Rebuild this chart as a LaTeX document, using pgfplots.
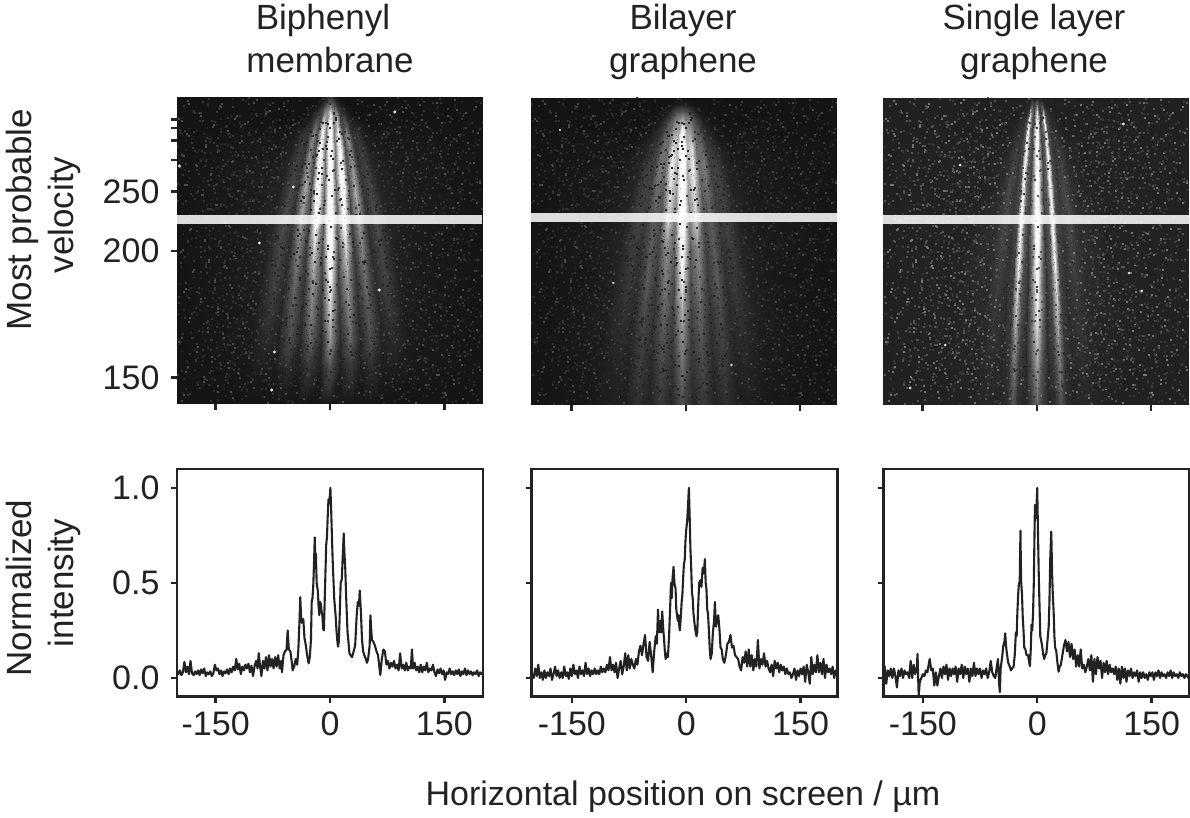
\documentclass[border=0pt]{standalone}
\usepackage{fontspec}
\setmainfont{Liberation Sans}
\usepackage{pgfplots}
\pgfplotsset{compat=1.18}
\newcommand{\bigf}{\fontsize{34}{42}\selectfont}
\newcommand{\labf}{\fontsize{35}{42}\selectfont}
\definecolor{ink}{HTML}{222222}

% image brightness: one row per detector line, values from the centre fringe outwards
\newcommand{\startmesh}{\gdef\meshdata{}}
\newcommand{\gridrow}[5]{%
  \foreach \u [count=\i from 0] in #1 {%
    \pgfmathsetmacro\xx{max(min(\u*sqrt((#4-89)/131)+#3,198),-200)}%
    \pgfmathsetmacro\cc{{#5}[int(abs(\i-#2))]}%
    \xdef\meshdata{\meshdata (\xx,#4) [\cc]}%
  }%
}

\newcommand{\uA}{-300,-100,-75,-60,-49,-38,-28,-18.7,-9,0,9,18.7,28,38,49,60,75,100,300}
\startmesh
\gridrow{\uA}{9}{0}{97}{.15,.12,.08,.03,.01,0,0,0,0,0}
\gridrow{\uA}{9}{0}{104}{.35,.3,.2,.1,.04,.02,0,0,0,0}
\gridrow{\uA}{9}{0}{112}{.65,.45,.4,.2,.12,.06,.02,0,0,0}
\gridrow{\uA}{9}{0}{120}{.9,.45,.6,.22,.25,.1,.04,.02,0,0}
\gridrow{\uA}{9}{0}{135}{1,.4,.8,.25,.45,.14,.15,.05,.02,0}
\gridrow{\uA}{9}{0}{150}{1,.4,.9,.25,.45,.15,.18,.06,.03,0}
\gridrow{\uA}{9}{0}{170}{1,.35,.95,.25,.5,.15,.2,.07,.04,0}
\gridrow{\uA}{9}{0}{190}{1,.35,.95,.25,.55,.15,.22,.07,.04,0}
\gridrow{\uA}{9}{0}{220}{1,.3,.85,.2,.5,.13,.25,.07,.04,0}
\gridrow{\uA}{9}{0}{250}{.95,.25,.65,.17,.42,.11,.22,.06,.03,0}
\gridrow{\uA}{9}{0}{280}{.8,.2,.5,.14,.35,.1,.2,.05,.03,0}
\gridrow{\uA}{9}{0}{310}{.65,.16,.42,.12,.3,.08,.16,.04,.02,0}
\gridrow{\uA}{9}{0}{340}{.48,.1,.33,.08,.25,.06,.1,.03,.02,0}
\gridrow{\uA}{9}{0}{370}{.25,.05,.15,.04,.1,.03,.04,.015,.01,0}
\gridrow{\uA}{9}{0}{403}{.03,.01,.01,.01,.01,0,0,0,0,0}
\let\meshA\meshdata

\newcommand{\uB}{-300,-100,-75,-58,-48,-38,-28,-18.5,-9,0,9,18.5,28,38,48,58,75,100,300}
\startmesh
\gridrow{\uB}{9}{-5}{99}{0,0,0,0,0,0,0,0,0,0}
\gridrow{\uB}{9}{-5}{104}{.05,.04,.03,.02,.01,0,0,0,0,0}
\gridrow{\uB}{9}{-5}{112}{.3,.28,.25,.18,.1,.05,.02,0,0,0}
\gridrow{\uB}{9}{-5}{120}{.55,.45,.4,.3,.2,.1,.04,.01,0,0}
\gridrow{\uB}{9}{-5}{135}{.9,.55,.55,.35,.3,.15,.1,.03,.01,0}
\gridrow{\uB}{9}{-5}{150}{1,.6,.7,.35,.35,.2,.15,.06,.02,0}
\gridrow{\uB}{9}{-5}{170}{1,.55,.75,.35,.4,.2,.2,.07,.03,0}
\gridrow{\uB}{9}{-5}{190}{1,.5,.7,.3,.35,.2,.2,.07,.03,0}
\gridrow{\uB}{9}{-5}{220}{1,.4,.65,.25,.3,.17,.2,.07,.03,0}
\gridrow{\uB}{9}{-5}{250}{.85,.3,.45,.2,.3,.13,.18,.06,.03,0}
\gridrow{\uB}{9}{-5}{280}{.75,.25,.4,.17,.3,.12,.16,.05,.02,0}
\gridrow{\uB}{9}{-5}{310}{.55,.2,.33,.14,.25,.1,.14,.05,.02,0}
\gridrow{\uB}{9}{-5}{340}{.45,.17,.28,.12,.2,.08,.1,.04,.02,0}
\gridrow{\uB}{9}{-5}{370}{.35,.13,.22,.09,.17,.06,.07,.03,.01,0}
\gridrow{\uB}{9}{-5}{404}{.25,.08,.16,.06,.12,.04,.05,.02,.01,0}
\let\meshB\meshdata

\newcommand{\uC}{-300,-85,-63,-52,-42,-32,-25.5,-20.5,-15.5,-10,-5,0,5,10,15.5,20.5,25.5,32,42,52,63,85,300}
\startmesh
\gridrow{\uC}{11}{0}{99}{.1,.05,.02,.02,.02,.01,0,0,0,0,0,0}
\gridrow{\uC}{11}{0}{104}{.35,.2,.1,.15,.15,.05,.01,0,0,0,0,0}
\gridrow{\uC}{11}{0}{112}{.7,.35,.12,.3,.5,.15,.05,.02,0,0,0,0}
\gridrow{\uC}{11}{0}{120}{.85,.45,.1,.35,.75,.2,.08,.04,.01,0,0,0}
\gridrow{\uC}{11}{0}{135}{1,.5,.15,.3,.85,.25,.1,.08,.03,.01,0,0}
\gridrow{\uC}{11}{0}{150}{1,.5,.15,.3,.85,.2,.1,.12,.05,.02,.01,0}
\gridrow{\uC}{11}{0}{170}{1,.5,.15,.3,.85,.2,.1,.16,.06,.03,.01,0}
\gridrow{\uC}{11}{0}{190}{1,.5,.15,.3,.85,.2,.1,.18,.07,.03,.01,0}
\gridrow{\uC}{11}{0}{220}{1,.5,.12,.25,.85,.18,.1,.18,.07,.05,.01,0}
\gridrow{\uC}{11}{0}{250}{.95,.45,.1,.25,.8,.16,.08,.16,.06,.05,.01,0}
\gridrow{\uC}{11}{0}{280}{.85,.4,.08,.22,.7,.15,.07,.13,.05,.04,.01,0}
\gridrow{\uC}{11}{0}{310}{.75,.35,.06,.2,.6,.13,.06,.1,.04,.03,.01,0}
\gridrow{\uC}{11}{0}{340}{.6,.28,.05,.15,.45,.1,.05,.08,.03,.02,.01,0}
\gridrow{\uC}{11}{0}{370}{.45,.2,.04,.1,.35,.07,.03,.05,.02,.01,0,0}
\gridrow{\uC}{11}{0}{404}{.3,.12,.02,.06,.22,.05,.02,.03,.01,0,0,0}
\let\meshC\meshdata

% background grain
\newcommand{\speck}{
(-187,101)(-142,104)(-96,100)(-61,106)(74,102)(118,105)(163,100)(191,107)
(-171,113)(-122,116)(-79,111)(52,115)(96,112)(141,118)(178,113)(-198,119)
(-153,125)(-108,122)(-66,128)(66,124)(127,127)(169,121)(-41,123)(38,129)
(-188,134)(-134,131)(-87,137)(-52,133)(47,136)(88,132)(152,138)(194,133)
(-163,145)(-116,141)(-71,147)(-36,143)(59,146)(108,141)(136,148)(181,143)
(-194,155)(-146,151)(-98,157)(-58,153)(43,156)(79,152)(122,158)(167,153)
(-176,165)(-127,161)(-83,167)(-47,163)(64,166)(99,161)(148,168)(188,163)
(-157,174)(-105,171)(-68,177)(-31,173)(51,176)(114,172)(139,178)(174,173)
(-191,185)(-138,181)(-89,187)(-55,183)(71,186)(93,181)(157,188)(197,183)
(-168,195)(-119,191)(-76,197)(-43,193)(56,196)(104,191)(131,198)(183,193)
(-149,205)(-101,201)(-63,207)(-35,203)(67,206)(121,201)(161,208)(192,203)
(-184,230)(-131,227)(-92,233)(-50,229)(61,232)(109,228)(146,234)(176,229)
(-165,241)(-112,238)(-73,244)(-39,240)(76,243)(97,239)(133,245)(186,240)
(-196,252)(-143,248)(-86,254)(-57,250)(49,253)(116,249)(154,255)(171,250)
(-159,262)(-124,258)(-69,264)(-45,260)(63,263)(88,259)(128,265)(194,260)
(-180,272)(-136,268)(-94,274)(-53,270)(72,273)(106,269)(144,275)(165,270)
(-151,282)(-109,278)(-78,284)(-60,280)(58,283)(93,279)(124,285)(188,280)
(-192,292)(-129,288)(-84,294)(-66,290)(79,293)(113,289)(151,295)(174,290)
(-170,302)(-117,298)(-97,304)(-54,300)(68,303)(101,299)(138,305)(196,300)
(-147,312)(-104,308)(-75,314)(-48,310)(84,313)(119,309)(159,315)(181,310)
(-186,322)(-134,318)(-88,324)(-62,320)(64,323)(96,319)(129,325)(168,320)
(-161,332)(-112,328)(-71,334)(-42,330)(77,333)(108,329)(147,335)(192,330)
(-198,342)(-140,338)(-93,344)(-57,340)(55,343)(88,339)(122,345)(176,340)
(-175,352)(-125,348)(-80,354)(-38,350)(69,353)(114,349)(156,355)(184,350)
(-155,362)(-107,358)(-66,364)(-29,360)(45,363)(98,359)(135,365)(170,360)
(-189,372)(-133,368)(-85,374)(-51,370)(60,373)(104,369)(143,375)(197,370)
(-166,382)(-118,378)(-74,384)(-20,380)(28,383)(82,379)(126,385)(162,380)
(-147,392)(-100,388)(-58,394)(-11,390)(38,393)(91,389)(152,395)(186,390)
(-194,401)(-128,398)(-82,403)(-35,399)(17,402)(68,398)(113,403)(174,399)
}
\newcommand{\spk}[5]{%
  \addplot[speck,#5,x filter/.expression={#1*x+#2},y filter/.expression={#3*y+#4}] coordinates {\speck};
}
% light grain, then dark grain over the fringes
\newcommand{\grain}[3]{%
  \spk{1}{0}{1}{0}{#1}
  \spk{-1}{7}{-1}{501}{#2}
  \spk{.93}{-11}{.97}{5.7}{#1}
  \spk{-.87}{23}{.91}{31}{#3}
  \spk{1.13}{17}{-.89}{461}{#2}
  \spk{-1.21}{-9}{-1.07}{540}{#3}
  \spk{.71}{37}{1.03}{-9}{#3}
  \spk{-.63}{-41}{.83}{49}{#2}
  \spk{1.07}{-23}{-.94}{480}{#3}
  \spk{-1.17}{31}{1.02}{-3}{#2}
  \spk{.83}{29}{-1.11}{512}{#3}
  \spk{-.77}{-27}{-.96}{487}{#2}
  \spk{1.27}{-5}{.87}{38}{#3}
  \spk{-1.33}{13}{.93}{21}{#3}
  \spk{.38}{3}{1}{6}{darkgrain}
  \spk{-.31}{-4}{.96}{19}{darkgrain}
  \spk{.27}{6}{-.98}{492}{darkgrain}
  \spk{-.44}{-2}{-1.02}{505}{darkgrain}
  \spk{.33}{-7}{.94}{28}{darkgrain}
  \spk{-.41}{8}{-.91}{470}{darkgrain}
}

\pgfplotsset{
  ticklabel style={font=\bigf,text=ink},
  yticklabel style={xshift=-8pt},
  every tick/.style={ink,line width=2.4pt},
  speck/.style={only marks,mark=square*,mark size=0.5pt,draw=none},
  darkgrain/.style={black,mark options={fill opacity=.3,draw opacity=0}},
  fringes/.style={surf,shader=interp,point meta=explicit},
  img/.style={
    scale only axis,width=306pt,height=306.5pt,
    y dir=reverse,ymin=97,ymax=403.5,clip mode=individual,clip marker paths=true,
    axis line style={draw=none},
    tick align=outside,major tick length=6pt,
    xtick={-150,0,150},xticklabels={},xtick pos=bottom,
    ytick=\empty,point meta min=0,point meta max=1,
  },
  prof/.style={
    scale only axis,width=306pt,height=227.5pt,
    ymin=-0.0984,ymax=1.0984,
    axis line style={ink,line width=2.6pt},
    tick align=outside,major tick length=6pt,
    xtick={-150,0,150},xtick pos=bottom,ytick pos=left,
    xticklabels={-150,0,150},
    ytick={0,0.5,1},yticklabels={},
    xticklabel style={yshift=-6pt},
  },
  trace/.style={ink,line width=2.1pt,line join=round,no markers},
}

\begin{document}
\begin{tikzpicture}
\path[use as bounding box] (0,0) rectangle (1190pt,817pt);

% ---- top row, velocity resolved images
\begin{axis}[img,at={(177pt,413.5pt)},anchor=south west,
  xmin=-200.7,xmax=200.7,
  colormap={ga}{gray(0cm)=(0.08); gray(0.25cm)=(0.3); gray(0.5cm)=(0.6); gray(0.75cm)=(0.95); gray(1cm)=(1)},
  axis background/.style={fill=black!92},
  ytick={119.7,128.3,140.7,160,191.7,250.7,377.3},
  yticklabels={,,,,250,200,150},ytick pos=left]
\addplot[fringes,mesh/cols=19] coordinates {\meshA};
\grain{gray!60!black}{gray!42!black}{gray!30!black}
\addplot[only marks,mark=*,mark size=1.3pt,white!90!black] coordinates {(-76.5,390)(64.7,290)(-92.6,243)(-48,187)(-197.5,166)(85,112)(-73,352)};
\addplot[white,line width=9pt,opacity=.85,no markers] coordinates {(-200.7,220)(200,220)};
\end{axis}

\begin{axis}[img,at={(531pt,412.5pt)},anchor=south west,
  xmin=-202.9,xmax=198.4,ymin=98,ymax=404.5,
  colormap={gb}{gray(0cm)=(0.08); gray(0.25cm)=(0.3); gray(0.5cm)=(0.6); gray(0.75cm)=(0.95); gray(1cm)=(1)},
  axis background/.style={fill=black!92}]
\addplot[fringes,mesh/cols=19] coordinates {\meshB};
\grain{gray!55!black}{gray!38!black}{gray!28!black}
\addplot[only marks,mark=*,mark size=1pt,white!80!black] coordinates {(-95,283)(-165,130)(60,365)};
\addplot[white,line width=9pt,opacity=.85,no markers] coordinates {(-202.9,217.5)(198.4,217.5)};
\end{axis}

\begin{axis}[img,at={(883pt,412.5pt)},anchor=south west,
  xmin=-201.6,xmax=199.7,ymin=98,ymax=404.5,
  colormap={gc}{gray(0cm)=(0.13); gray(0.25cm)=(0.35); gray(0.5cm)=(0.65); gray(0.75cm)=(0.95); gray(1cm)=(1)},
  axis background/.style={fill=black!87}]
\addplot[fringes,mesh/cols=23] coordinates {\meshC};
\grain{gray!90!black}{gray!65!black}{gray!45!black}
\addplot[only marks,mark=*,mark size=1.2pt,white!90!black] coordinates {(-100.5,165)(-166,388)(121,273)(113.6,124)(137.7,291)(-120,345)};
\addplot[white,line width=9pt,opacity=.85,no markers] coordinates {(-201.6,219.8)(199.7,219.8)};
\end{axis}

% ---- bottom row, profiles along the marked row
\begin{axis}[prof,at={(177pt,120.3pt)},anchor=south west,
  xmin=-200.7,xmax=200.7,yticklabels={0.0,0.5,1.0}]
\addplot[trace] coordinates {
(-200,.03)(-199,.02)(-197,.04)(-195,.015)(-193,.03)(-191,.085)(-189,.03)(-187,.06)(-185,.02)(-183,.09)(-181,.025)(-179,.015)(-177,.035)(-175,.02)(-173,.04)(-171,.015)(-169,.045)(-167,.025)(-165,.05)(-163,.01)(-161,.03)(-159,.02)(-157,.035)(-155,.01)(-153,.025)(-151,.07)(-149,.04)(-147,.05)(-145,.02)(-143,.04)(-141,.01)(-139,.035)(-137,.025)(-135,.045)(-133,.02)(-131,.05)(-129,.03)(-127,.06)(-125,.04)(-123,.10)(-121,.045)(-119,.075)(-117,.02)(-115,.06)(-113,.04)(-111,.07)(-109,.05)(-107,.075)(-105,.03)(-103,.065)(-101,.01)(-99,.06)(-97,.09)(-95,.05)(-93.5,.13)(-92,.07)(-90,.01)(-88,.09)(-86,.05)(-84,.11)(-82,.04)(-80,.12)(-78,.06)(-76,.10)(-74,.05)(-72,.11)(-70,.06)(-68,.12)(-66,.05)(-64,.09)(-63,.03)(-61,.12)(-59,.14)(-57,.15)(-55.5,.25)(-54,.15)(-52,.14)(-50,.08)(-49,.04)(-47,.06)(-45,.10)(-43,.07)(-41.5,.15)(-40,.30)(-39,.425)(-38,.33)(-37,.29)(-35,.31)(-33.5,.21)(-32,.18)(-30,.12)(-28,.077)(-26.5,.11)(-25,.20)(-24,.4)(-23,.42)(-22,.48)(-21,.6)(-20,.74)(-19.5,.66)(-18.5,.65)(-17.5,.5)(-16,.46)(-15,.38)(-14,.33)(-13,.40)(-12,.39)(-11,.35)(-10,.33)(-9,.26)(-8,.25)(-7,.4)(-6,.55)(-5,.7)(-4,.74)(-3,.85)(-2,.94)(-1,.92)(0,.97)(.5,1)(1.5,.89)(2.5,.75)(3.5,.62)(4.5,.52)(5.5,.42)(6.5,.37)(7.5,.32)(8.5,.25)(9.5,.20)(10.5,.165)(11.5,.19)(12.5,.30)(14,.50)(15.5,.52)(16.5,.62)(18,.76)(19,.65)(20,.58)(21,.45)(22,.34)(23,.24)(24,.20)(25.5,.13)(27,.12)(29,.11)(31,.14)(33,.17)(35,.33)(36.5,.40)(38,.38)(39,.46)(40.5,.35)(42,.2)(43.5,.14)(45,.12)(47,.10)(48.5,.08)(50,.1)(52,.17)(53,.33)(54,.26)(55,.2)(57,.19)(59,.17)(61,.14)(63,.12)(65,.05)(66,.016)(68,.10)(70,.15)(72,.14)(74,.07)(76,.09)(78,.05)(80,.08)(82,.06)(84,.09)(86,.05)(88,.07)(90,.04)(92,.13)(94,.05)(96,.07)(98,.04)(100,.08)(102,.04)(104,.06)(106,.05)(107.5,.15)(109,.05)(111,.08)(113,.04)(115,.06)(117,.03)(119,.07)(121,.03)(123,.06)(125,.04)(127,.08)(129,.03)(131,.05)(133,.04)(135,.07)(137,.03)(139,.01)(141,.045)(143,.025)(145,.05)(147,.02)(149,.04)(151,-.01)(153,.03)(155,.02)(157,.05)(159,.02)(161,.035)(163,.015)(165,.04)(167,.02)(169,.045)(171,.01)(173,.035)(175,.02)(177,.05)(179,.015)(181,.04)(183,.02)(185,.035)(187,.015)(189,.03)(191,.02)(193,.04)(195,.01)(197,.03)(199,.02)(200.7,.03)
};
\end{axis}

\begin{axis}[prof,at={(531.5pt,120.3pt)},anchor=south west,
  xmin=-202.9,xmax=198.4]
\addplot[trace] coordinates {
(-202,.02)(-200,.0)(-198,.05)(-196,.01)(-194,.07)(-192,.0)(-190,.03)(-188,-.01)(-186,.04)(-184,.0)(-182,.03)(-180,.01)(-178,.05)(-176,-.01)(-174,.02)(-172,.06)(-170,.01)(-168,.04)(-166,.0)(-164,.03)(-162,.0)(-160,.06)(-158,.01)(-156,.03)(-154,-.005)(-152,.05)(-150,.01)(-148,.07)(-146,.02)(-144,.04)(-142,.0)(-140,.06)(-138,.02)(-136,.04)(-134,.01)(-132,.08)(-130,.02)(-128,.05)(-126,.01)(-124,.04)(-122,.02)(-120,.05)(-118,.02)(-116,.04)(-114,.02)(-112,.06)(-110,.03)(-108,.05)(-106,.03)(-104,.07)(-102,.04)(-100,.11)(-98,.04)(-96,.07)(-94,.03)(-92,.08)(-90,.0)(-88,.05)(-86,.09)(-84,.02)(-82,.06)(-80,.13)(-78,.04)(-76,.12)(-74,.05)(-72,.10)(-70,.07)(-68,.05)(-66,.10)(-64,.07)(-62,.14)(-60,.17)(-58,.12)(-56,.18)(-54,.226)(-52,.11)(-50,.09)(-48,.19)(-46,.12)(-44,.03)(-42,.14)(-40,.22)(-38.5,.18)(-37,.36)(-36,.26)(-35,.24)(-34,.30)(-33,.24)(-31.5,.35)(-30,.25)(-29,.2)(-28,.14)(-27,.10)(-26,.11)(-25,.13)(-24,.11)(-22.5,.22)(-21,.38)(-20,.50)(-19,.42)(-18,.52)(-16.6,.585)(-15.5,.50)(-14,.47)(-13,.36)(-12,.33)(-11,.30)(-10,.33)(-9,.27)(-8.3,.25)(-7,.33)(-6,.40)(-5,.44)(-4,.53)(-3,.60)(-2,.62)(-1,.72)(0,.78)(1.3,.83)(2.5,.92)(3.5,1)(4.5,.85)(5.5,.68)(6.5,.58)(7.5,.45)(8.5,.42)(9.5,.34)(10.5,.30)(12,.25)(13.5,.22)(14.5,.24)(15.5,.36)(17,.50)(18.8,.515)(20,.48)(21.5,.58)(23,.55)(24.5,.626)(25.5,.50)(26.5,.47)(27.5,.36)(28.5,.34)(29.5,.27)(31,.14)(32,.10)(33.5,.13)(35,.24)(36.5,.30)(37.6,.40)(39,.27)(40.5,.31)(42,.33)(43.5,.26)(45,.16)(46.5,.15)(48,.10)(50,.08)(52,.12)(54,.18)(56,.19)(58,.226)(60,.16)(62,.17)(64,.12)(66,.11)(68,.10)(70,.06)(72,.04)(74,.11)(76,.08)(78,.14)(80,.06)(82,.15)(84,.06)(86,.12)(88,.04)(90,.10)(92,.06)(94,.2)(96,.05)(98,.1)(100,.07)(102,.13)(104,.06)(106,.09)(108,.05)(110,.03)(112,.07)(114,.01)(116,.09)(118,.05)(120,.08)(122,.03)(124,.07)(126,.04)(128,.06)(130,.02)(132,.05)(134,.02)(136,.03)(138,.0)(140,.02)(142,.05)(144,-.01)(146,.04)(148,.01)(150,.05)(152,.02)(154,.06)(156,-.02)(158,.07)(160,.03)(162,-.03)(164,.11)(166,.02)(168,.07)(170,.03)(172,.12)(174,.03)(176,.08)(178,.02)(180,.10)(182,.0)(184,.07)(186,.03)(188,.05)(190,.02)(192,.06)(194,.0)(196,.04)(198.4,.03)
};
\end{axis}

\begin{axis}[prof,at={(883.5pt,120.3pt)},anchor=south west,
  xmin=-201.6,xmax=199.7]
\addplot[trace] coordinates {
(-201,.0)(-200,.06)(-198,-.03)(-196,.04)(-194,.01)(-192,.05)(-190,.0)(-188,.05)(-186,.01)(-184,-.05)(-182,.04)(-180,.01)(-178,.05)(-176,.0)(-174,.04)(-172,.02)(-170,.03)(-168,.0)(-166,.09)(-164,.0)(-162,.07)(-160,.02)(-158,.05)(-157,.126)(-155.5,-.09)(-154,-.02)(-152,.0)(-150,.02)(-148,.01)(-146,.04)(-144,.03)(-142,.08)(-141,.10)(-139,.04)(-137,.05)(-135,-.04)(-133,.03)(-131,-.04)(-129,.01)(-127,.05)(-125,.0)(-123,.06)(-121,.02)(-119,.07)(-117,-.01)(-115,.05)(-113,.01)(-111,.05)(-109,.02)(-107,.06)(-105,-.02)(-103,.05)(-101,.02)(-99,.07)(-97,.0)(-95,.06)(-93,.02)(-91,.05)(-89,-.02)(-87,.05)(-85,.01)(-83,.08)(-81,.01)(-79,.05)(-77,.02)(-75,.05)(-73,.0)(-71,.04)(-69,.02)(-67,.05)(-65,.0)(-63,.03)(-61,.09)(-59,.03)(-57,.01)(-55,.0)(-53,.06)(-51.5,.1)(-50,-.03)(-49,-.075)(-48,.05)(-46,.11)(-44.5,.17)(-43,.19)(-42,.235)(-41,.17)(-39.5,.12)(-38,.08)(-36,.06)(-34.5,.04)(-33,.05)(-31,.06)(-29.5,.12)(-28,.24)(-27,.22)(-26,.35)(-25,.44)(-24,.5)(-23,.50)(-22,.775)(-21.5,.6)(-21,.5)(-20,.44)(-19,.32)(-18,.25)(-17,.16)(-15.5,.15)(-14,.12)(-12,.12)(-10.5,.08)(-9.6,.063)(-8.5,.15)(-7.5,.28)(-6.5,.25)(-5.5,.34)(-4.5,.50)(-3.5,.78)(-3,.91)(-2,.84)(-1,.90)(0,1)(1,.76)(2,.54)(3,.38)(4,.22)(5,.20)(6,.18)(7,.15)(8,.12)(9.2,.10)(10.5,.12)(12,.13)(13.5,.20)(15,.27)(16,.40)(17,.62)(18.4,.77)(19.5,.55)(20.5,.43)(21.5,.35)(22.5,.22)(23.5,.16)(25,.14)(26.5,.08)(28,.033)(29.5,.06)(31,.07)(33,.12)(35,.17)(37,.20)(39,.14)(41,.19)(43,.11)(45,.18)(47,.10)(49,.15)(51,.06)(53,.12)(55,.06)(57,.15)(59,.05)(61,.07)(63,.03)(65,.06)(67,.1)(69,.04)(71,.12)(73,-.02)(75,.10)(77,.02)(79,.11)(81,.05)(83,.09)(85,.0)(87,.08)(89,.03)(91,.09)(93,.02)(95,.07)(97,.03)(99,.05)(101,.02)(103,.06)(105,-.01)(107,.05)(109,-.03)(111,.06)(113,.0)(115,.05)(117,-.02)(119,.04)(121,.01)(123,.05)(125,.0)(127,.03)(129,.01)(131,.04)(133,-.02)(135,.03)(137,.0)(139,.03)(141,.0)(143,.02)(145,-.01)(147,.03)(149,.01)(151,.03)(153,-.01)(155,.03)(157,.01)(159,.04)(161,.0)(163,.03)(165,.01)(167,.02)(169,.0)(171,.03)(173,.01)(175,.04)(177,.0)(179,.03)(181,.01)(183,.02)(185,.0)(187,.03)(189,.01)(191,.02)(193,.0)(195,.02)(197,.01)(199.7,-.01)
};
\end{axis}

% ---- texts
\tikzset{lab/.style={font=\labf,text=ink,anchor=base,inner sep=0pt}}
\node[lab] at (323pt,787pt) {Biphenyl};
\node[lab] at (330pt,744.3pt) {membrane};
\node[lab] at (683pt,787pt) {Bilayer};
\node[lab] at (683pt,744.3pt) {graphene};
\node[lab] at (1034pt,787pt) {Single layer};
\node[lab] at (1034pt,744.3pt) {graphene};
\node[lab,rotate=90] at (31pt,597.3pt) {Most probable};
\node[lab,rotate=90] at (73.3pt,602pt) {velocity};
\node[lab,rotate=90] at (31pt,229pt) {Normalized};
\node[lab,rotate=90] at (73.3pt,234pt) {intensity};
\node[lab,font=\bigf] at (683pt,12pt) {Horizontal position on screen / µm};
\end{tikzpicture}
\end{document}
